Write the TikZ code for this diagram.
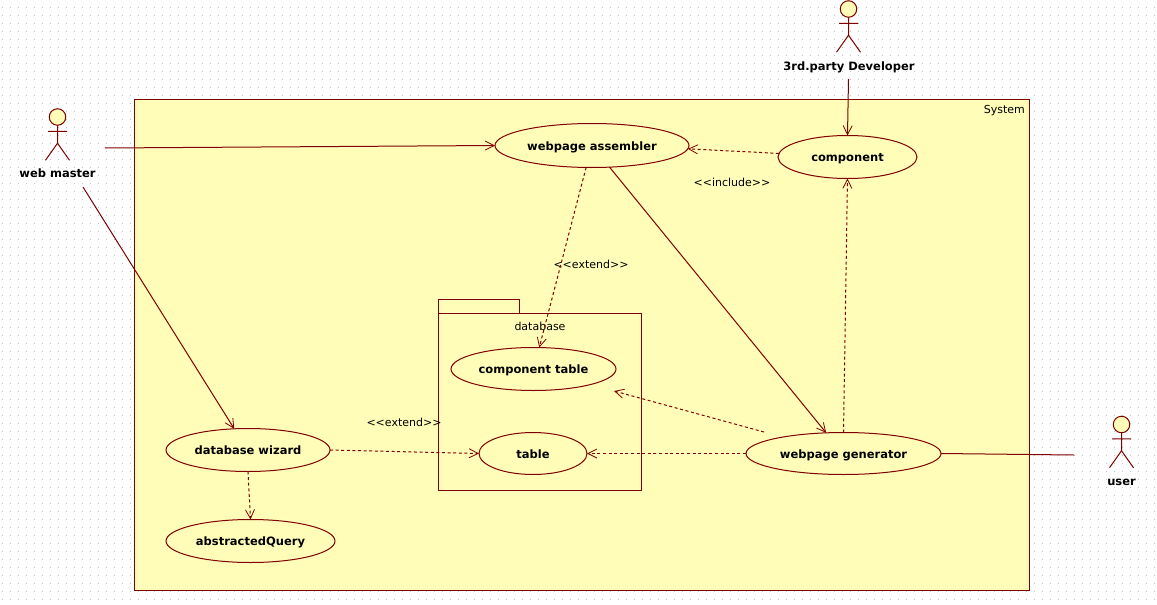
\documentclass[tikz,border=0pt]{standalone}
\usepackage{fontspec}
\setmainfont{DejaVu Sans}
\usetikzlibrary{shapes.geometric,arrows.meta}
\definecolor{roseline}{RGB}{128,0,0}
\definecolor{rosefill}{RGB}{255,253,183}
\definecolor{griddot}{RGB}{195,195,195}
\tikzset{
  wire/.style={draw=roseline,line width=1pt},
  flow/.style={wire,-{Straight Barb[length=9pt,width=9pt,line width=0.8pt]}},
  dashflow/.style={flow,dash pattern=on 3pt off 2.6pt},
  ucase/.style={ellipse,draw=roseline,fill=rosefill,line width=1pt,inner sep=0pt,outer sep=0pt,
    text height=9pt,text depth=0pt,font=\fontsize{11.5}{14}\selectfont\bfseries},
  actorhead/.style={circle,draw=roseline,fill=rosefill,line width=1pt,minimum size=16.5pt,inner sep=0pt,outer sep=0pt},
  actorname/.style={inner sep=0pt,text height=9pt,text depth=0pt,font=\fontsize{11.5}{14}\selectfont\bfseries},
  plainlabel/.style={inner sep=0pt,font=\fontsize{11}{13}\selectfont},
  boxline/.style={draw=roseline,line width=1pt},
}
\newcommand{\stickman}[3]{%
  \node[actorhead] (#1) at (#2,#3) {};
  \draw[wire] (#1.south) -- ++(0,18) ++(-9.5,-12) -- ++(19,0)
    (#1.south) ++(0,18) -- ++(-12,17) (#1.south) ++(0,18) -- ++(12,17);
}
\begin{document}
\begin{tikzpicture}[x=1pt,y=-1pt]
\useasboundingbox (0,0) rectangle (1157,605);
\fill[white] (0,0) rectangle (1157,605);
% dotted grid
\foreach \k in {0,...,74}
  \draw[griddot,line width=1pt,dash pattern=on 1pt off 7pt] (2,7.5+8*\k) -- (1157,7.5+8*\k);
% system boundary
\node[draw=roseline,fill=rosefill,line width=1pt,inner sep=0pt,outer sep=0pt,minimum width=895pt,minimum height=491pt,anchor=north west] (system) at (134.5,99.5) {};
\node[plainlabel,anchor=north east] (systemname) at (1025,105) {System};
% package
\node[boxline,line width=1pt,fill=rosefill,inner sep=0pt,outer sep=0pt,minimum width=81pt,minimum height=14pt,anchor=north west] (pkgtab) at (438.5,299.5) {};
\node[boxline,fill=rosefill,inner sep=0pt,outer sep=0pt,minimum width=203pt,minimum height=177pt,anchor=north west] (pkg) at (438.5,313.5) {};
\node[plainlabel] (pkgname) at (540,326.5) {database};
% use cases
\node[ucase,minimum width=194pt,minimum height=44pt] (assembler) at (592,145.5) {webpage assembler};
\node[ucase,minimum width=139pt,minimum height=43pt] (component) at (847.5,157) {component};
\node[ucase,minimum width=165pt,minimum height=43pt] (comptable) at (533.5,369) {component table};
\node[ucase,minimum width=108pt,minimum height=42pt] (tablecase) at (533,453.5) {table};
\node[ucase,minimum width=164pt,minimum height=43pt] (wizard) at (248,450) {database wizard};
\node[ucase,minimum width=169pt,minimum height=43pt] (query) at (250.5,541) {abstractedQuery};
\node[ucase,minimum width=195pt,minimum height=42pt] (generator) at (843.5,453.5) {webpage generator};
% actors
\stickman{webmaster}{57.5}{117}
\node[actorname] (webmastername) at (57.5,173) {web master};
\stickman{developer}{848.5}{9}
\node[actorname] (developername) at (849,65.5) {3rd.party Developer};
\stickman{usr}{1121.5}{424.5}
\node[actorname] (usrname) at (1121.5,481) {user};
% labels
\node[plainlabel] (incl) at (732,182) {<{}<include>{}>};
\node[plainlabel] (extA) at (591,264.5) {<{}<extend>{}>};
\node[plainlabel] (extB) at (404,422.5) {<{}<extend>{}>};
% free ends
\coordinate (wmOutA) at (105,148);
\coordinate (wmOutB) at (83,187);
\coordinate (devOut) at (848.5,79);
\coordinate (usrIn) at (1074,455);
\coordinate (genStart) at (764,432);
\coordinate (ctEnd) at (614,391);
% connectors
\draw[flow] (wmOutA) -- (assembler.west);
\draw[flow] (wmOutB) -- (wizard.123);
\draw[flow] (devOut) -- (component.north);
\draw[dashflow] (component.177.5) -- (assembler.-2.4);
\draw[dashflow] (assembler.255) -- (comptable.75.6);
\draw[flow] (assembler.309) -- (generator.130);
\draw[dashflow] (generator.north) -- (component.south);
\draw[dashflow] (genStart) -- (ctEnd);
\draw[dashflow] (generator.west) -- (tablecase.east);
\draw[dashflow] (wizard.east) -- (tablecase.west);
\draw[dashflow] (wizard.south) -- (query.north);
\draw[wire] (generator.east) -- (usrIn);
\end{tikzpicture}
\end{document}
